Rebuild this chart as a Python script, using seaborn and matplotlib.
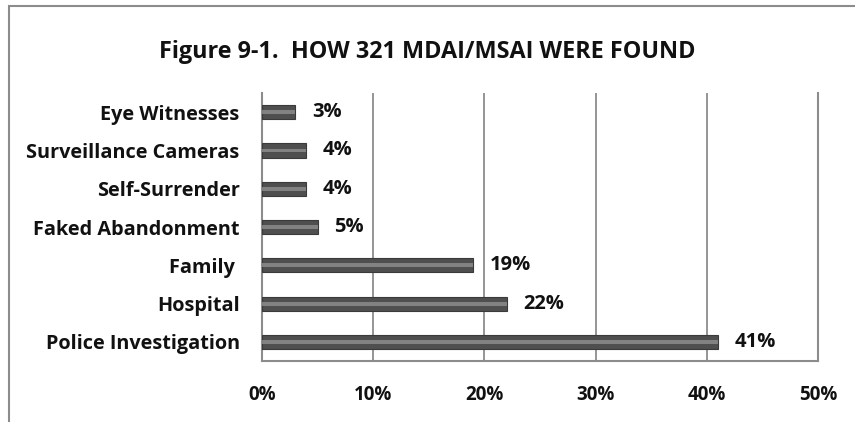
import pandas as pd
import seaborn as sns
import matplotlib.pyplot as plt
from matplotlib.patches import Rectangle
from matplotlib.ticker import FuncFormatter


categories = ['Eye Witnesses', 'Surveillance Cameras', 'Self-Surrender', 'Faked Abandonment',
              'Family ', 'Hospital', 'Police Investigation']
percent = [3, 4, 4, 5, 19, 22, 41]
x_ticks = [0, 10, 20, 30, 40, 50]

df = pd.DataFrame({'how': categories, 'pct': percent})

sns.set_style('white')
plt.rcParams['font.family'] = ['Open Sans', 'DejaVu Sans']
plt.rcParams['font.weight'] = 'bold'

fig = plt.figure(figsize=(8.55, 4.22), dpi=100)
ax = fig.add_axes([0.3064, 0.1445, 0.6503, 0.6351])

# outer chart frame (cropped at right and bottom like the original)
fig.patches.append(Rectangle((9 / 855, -0.05), 1.2, 1 - 6 / 422 + 0.05, transform=fig.transFigure,
                             fill=False, edgecolor='#8c8c8c', linewidth=1.5, zorder=0))

# main bars + lighter highlight stripe for the cylinder look
sns.barplot(data=df, x='pct', y='how', color='#4f4f4f', width=0.37, saturation=1,
            edgecolor='#3a3a3a', linewidth=0.8, ax=ax, zorder=3)
sns.barplot(data=df, x='pct', y='how', color='#8f8f8f', width=0.1, saturation=1,
            linewidth=0, ax=ax, zorder=4)

for p in ax.patches[len(percent):]:
    p.set_alpha(0.8)

ax.bar_label(ax.containers[0], labels=[f'{v}%' for v in percent], padding=12,
             fontsize=14.5, fontweight='bold', color='#111111')

ax.set_xlim(0, 50)
ax.set_xticks(x_ticks)
ax.xaxis.set_major_formatter(FuncFormatter(lambda v, _: f'{v:.0f}%'))
ax.grid(axis='x', color='#8c8c8c', linewidth=1.3, zorder=0)
ax.set_axisbelow(True)

for side in ['left', 'right', 'bottom']:
    ax.spines[side].set_color('#8c8c8c')
    ax.spines[side].set_linewidth(1.5)
ax.spines['top'].set_visible(False)

ax.tick_params(axis='x', length=0, pad=17, labelsize=13.5, labelcolor='#111111')
ax.tick_params(axis='y', length=0, pad=16, labelsize=14.3, labelcolor='#111111')
for t in ax.get_xticklabels() + ax.get_yticklabels():
    t.set_fontweight('bold')

ax.set_xlabel('')
ax.set_ylabel('')

fig.text(0.5, 1 - 52 / 422, 'Figure 9-1.  HOW 321 MDAI/MSAI WERE FOUND', ha='center', va='center',
         fontsize=16.8, fontweight='bold', color='#111111')

plt.savefig('out.png', dpi=100)
